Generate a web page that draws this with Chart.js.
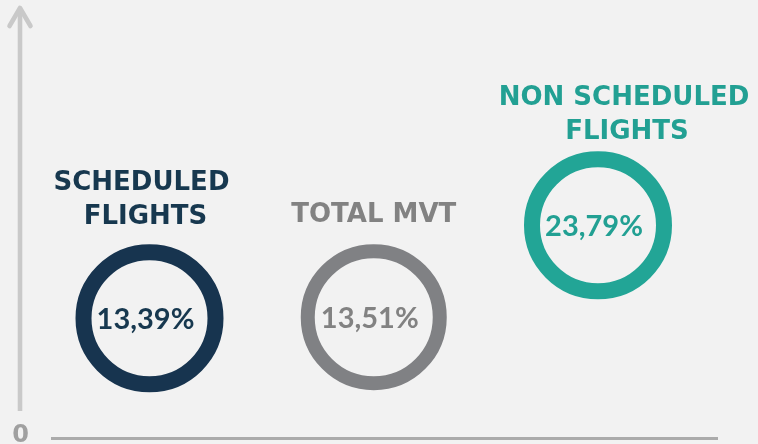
<!DOCTYPE html>
<html><head><meta charset="utf-8">
<script src="https://cdn.jsdelivr.net/npm/chart.js@4.4.1/dist/chart.umd.min.js"></script>
<style>html,body{margin:0;padding:0;background:#f2f2f2;overflow:hidden}</style>
</head><body>
<canvas id="c" width="758" height="444"></canvas>
<script>
// ---- data ----
const categories = ['SCHEDULED FLIGHTS', 'TOTAL MVT', 'NON SCHEDULED FLIGHTS'];
const headingLines = [['SCHEDULED', 'FLIGHTS'], ['TOTAL MVT'], ['NON SCHEDULED', 'FLIGHTS']];
const growthPct = [13.39, 13.51, 23.79];
const yTickValues = [0];

// ---- style ----
const ringColors = ['#17344f', '#808184', '#22a596'];
const textColors = ['#17384f', '#828282', '#22a093'];
const ringWidths = [16, 14, 16];
const ringRadius = 66;

const bgPlugin = {
  id: 'bg',
  beforeDraw(chart) {
    const ctx = chart.ctx;
    ctx.save();
    ctx.fillStyle = '#f2f2f2';
    ctx.fillRect(0, 0, chart.width, chart.height);
    ctx.restore();
  }
};

const arrowPlugin = {
  id: 'arrowAxis',
  beforeDatasetsDraw(chart) {
    const ctx = chart.ctx;
    const ys = chart.scales.y;
    const x = ys.left + 20;
    const top = chart.chartArea.top + 7;
    const bottom = ys.getPixelForValue(0) - 27;
    ctx.save();
    ctx.strokeStyle = '#c9c9c9';
    ctx.lineWidth = 4.6;
    ctx.lineCap = 'butt';
    ctx.beginPath();
    ctx.moveTo(x, bottom);
    ctx.lineTo(x, top + 2);
    ctx.stroke();
    ctx.lineCap = 'round';
    ctx.lineJoin = 'round';
    ctx.beginPath();
    ctx.moveTo(x - 10.5, top + 19);
    ctx.lineTo(x, top + 1);
    ctx.lineTo(x + 10.5, top + 19);
    ctx.stroke();
    ctx.restore();
  }
};

const labelPlugin = {
  id: 'ringLabels',
  afterDatasetsDraw(chart, args, opts) {
    const ctx = chart.ctx;
    const meta = chart.getDatasetMeta(0);
    ctx.save();
    meta.data.forEach((pt, i) => {
      const x = pt.x, y = pt.y;
      const outer = ringRadius + ringWidths[i] / 2;
      // value text
      ctx.fillStyle = textColors[i];
      ctx.textAlign = 'center';
      ctx.textBaseline = 'alphabetic';
      ctx.font = 'bold 29px Lato';
      const txt = growthPct[i].toFixed(2).replace('.', ',') + '%';
      ctx.fillText(txt, x - 4, y + 10.5);
      // heading
      ctx.font = 'bold 26px "DejaVu Sans"';
      const lines = headingLines[i];
      const lastBase = y - outer - opts.gaps[i];
      lines.forEach((ln, k) => {
        const dx = opts.dx[i][k] || 0;
        ctx.fillText(ln, x + dx, lastBase - (lines.length - 1 - k) * 34);
      });
    });
    ctx.restore();
  }
};

new Chart(document.getElementById('c'), {
  type: 'scatter',
  data: {
    datasets: [{
      data: growthPct.map((v, i) => ({ x: i, y: v })),
      pointStyle: 'circle',
      pointRadius: ringRadius,
      pointHoverRadius: ringRadius,
      backgroundColor: 'rgba(0,0,0,0)',
      borderColor: ringColors,
      borderWidth: ringWidths,
      pointBorderWidth: ringWidths,
      clip: false
    }]
  },
  options: {
    responsive: false,
    devicePixelRatio: 1,
    animation: false,
    events: [],
    layout: { autoPadding: false, padding: { top: 0, right: 41, bottom: 6, left: 0 } },
    plugins: {
      legend: { display: false },
      tooltip: { enabled: false },
      ringLabels: { gaps: [20, 22, 12], dx: [[-8, -4], [0], [26, 29]] }
    },
    scales: {
      x: {
        type: 'linear',
        min: -0.4348,
        max: 2.5307,
        grid: { display: false, drawTicks: false },
        ticks: { display: false },
        border: { display: true, color: '#ababab', width: 3 }
      },
      y: {
        type: 'linear',
        min: 0,
        max: 49,
        grid: { display: false, drawTicks: false },
        border: { display: false },
        afterBuildTicks: s => { s.ticks = yTickValues.map(v => ({ value: v })); },
        ticks: {
          font: { family: '"DejaVu Sans"', weight: 'bold', size: 24 },
          color: '#a0a0a0',
          padding: 23,
          labelOffset: -2,
          callback: v => String(v)
        },
        afterFit: s => { s.width = 52; s.paddingTop = 0; s.paddingBottom = 0; }
      }
    }
  },
  plugins: [bgPlugin, arrowPlugin, labelPlugin]
});
</script>
</body></html>
